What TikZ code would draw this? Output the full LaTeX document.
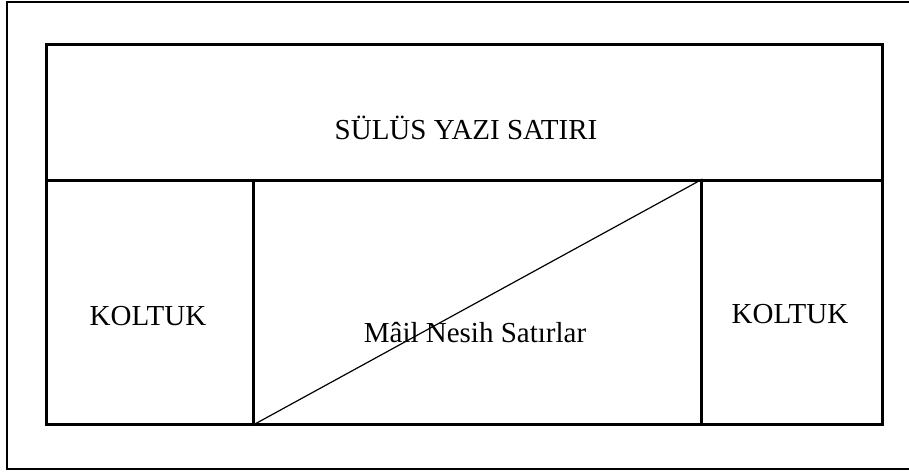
\documentclass[tikz,border=0pt]{standalone}
\usepackage{fontspec}
\setmainfont{Liberation Serif}
\usetikzlibrary{positioning,calc}

\begin{document}
\begin{tikzpicture}[
x=1pt, y=-1pt,
cell/.style={
    draw,
    rectangle,
    line width=2.6pt,
    inner sep=0pt,
    anchor=north west
},
label/.style={
    anchor=base,
    inner sep=0pt,
    font=\fontsize{29}{34}\selectfont
},
every node/.style={font=\fontsize{29}{34}\selectfont}
]
\useasboundingbox (0,0) rectangle (909,472);

% outer frame (right side runs off the page)
\coordinate (frameTR) at (909,2);
\coordinate (frameTL) at (7,2);
\coordinate (frameBL) at (7,469);
\coordinate (frameBR) at (909,469);
\draw[line width=2.6pt] (frameTR) -- (frameTL) -- (frameBL) -- (frameBR);

% cells
\node[cell, minimum width=836pt, minimum height=136pt] (sulus) at (45,43) {};
\node[cell, minimum width=207pt, minimum height=244pt] (koltukL) at (45,179) {};
\node[cell, minimum width=448pt, minimum height=244pt] (nesih) at (252,179) {};
\node[cell, minimum width=181pt, minimum height=244pt] (koltukR) at (700,179) {};

% diagonal
\draw[line width=1.2pt] (nesih.south west) -- (nesih.north east);

% texts
\node[label] (sulusText) at (466,139) {SÜLÜS YAZI SATIRI};
\node[label] (koltukLText) at (148,325) {KOLTUK};
\node[label] (koltukRText) at (790,323) {KOLTUK};
\node[label] (nesihText) at (475,342) {Mâil Nesih Satırlar};

\end{tikzpicture}
\end{document}
